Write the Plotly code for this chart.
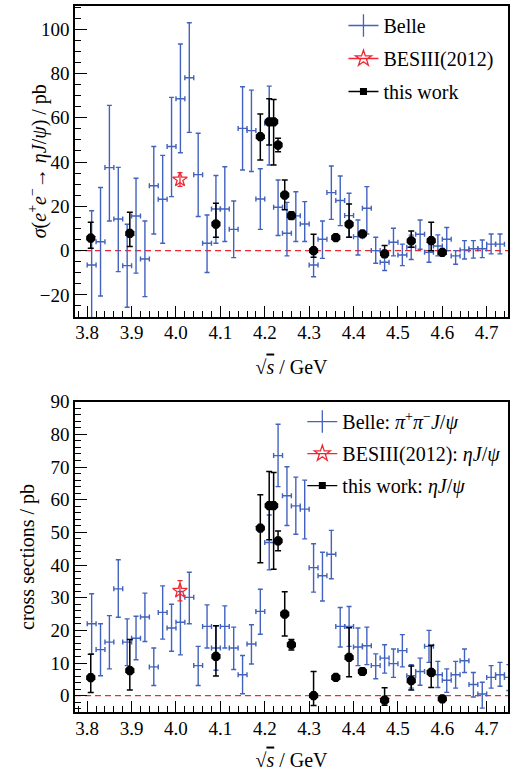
import plotly.graph_objects as go

# ---------------- data ----------------
# Belle e+e- -> eta J/psi (top panel)
belle_eta_x = [3.81, 3.83, 3.85, 3.87, 3.89, 3.91, 3.93, 3.95, 3.97, 3.99,
               4.01, 4.03, 4.05, 4.07, 4.09, 4.11, 4.13, 4.15, 4.17, 4.19,
               4.21, 4.23, 4.25, 4.27, 4.29, 4.31, 4.33, 4.35, 4.37, 4.39,
               4.41, 4.43, 4.45, 4.47, 4.49, 4.51, 4.53, 4.55, 4.57, 4.59,
               4.61, 4.63, 4.65, 4.67, 4.69, 4.71, 4.73]
belle_eta_y = [-6.5, 4.0, 37.5, 14.3, -6.8, 15.6, -3.8, 29.3, 23.2, 47.0,
               68.6, 78.1, 34.3, 3.3, 18.8, 18.8, 9.6, 55.2, 54.2, 23.3,
               57.5, 19.6, 7.8, 15.7, 12.0, -6.5, 5.1, 26.2, 22.6, 15.8,
               6.3, 19.1, 0.0, -5.3, 3.8, -2.0, 1.5, 7.4, -0.8, 2.1,
               5.1, -2.4, 0.3, 0.8, 0.8, 2.9, 2.9]
belle_eta_eup = [24.5, 24.5, 28.1, 23.3, 18.7, 17.1, 17.2, 17.7, 19.8, 22.2,
                 24.7, 24.8, 18.7, 12.8, 15.1, 19.1, 12.8, 18.8, 18.3, 13.7,
                 16.8, 12.3, 14.0, 10.9, 10.1, 5.3, 8.3, 12.0, 11.1, 10.1,
                 7.5, 9.8, 6.0, 5.3, 6.3, 4.9, 5.5, 6.4, 4.5, 5.0,
                 5.3, 2.4, 4.2, 3.7, 4.0, 4.6, 4.6]
belle_eta_edn = [30.0, 24.5, 24.1, 23.8, 18.8, 25.8, 17.0, 21.8, 19.9, 22.6,
                 24.4, 24.7, 18.9, 13.2, 15.5, 14.7, 12.8, 18.8, 18.5, 13.7,
                 18.8, 12.8, 10.2, 11.6, 7.9, 5.3, 8.6, 12.1, 11.3, 9.8,
                 8.3, 11.6, 5.7, 3.7, 6.2, 4.8, 5.5, 6.8, 4.5, 4.5,
                 5.1, 3.8, 4.1, 4.2, 4.0, 4.4, 4.4]

# Belle e+e- -> pi+ pi- J/psi (bottom panel)
belle_pp_x = [3.81, 3.83, 3.85, 3.87, 3.89, 3.91, 3.93, 3.95, 3.97, 3.99,
              4.01, 4.03, 4.05, 4.07, 4.09, 4.11, 4.13, 4.15, 4.17, 4.19,
              4.21, 4.23, 4.25, 4.27, 4.29, 4.31, 4.33, 4.35, 4.37, 4.39,
              4.41, 4.43, 4.45, 4.47, 4.49, 4.51, 4.53, 4.55, 4.57, 4.59,
              4.61, 4.63, 4.65, 4.67, 4.69, 4.71, 4.73, 4.75]
belle_pp_y = [22.0, 14.1, 16.4, 32.7, 16.4, 17.6, 24.1, 8.8, 25.5, 20.7,
              22.5, 30.1, 9.2, 21.2, 14.6, 21.2, 14.6, 6.4, 15.8, 25.8,
              46.9, 73.5, 61.2, 58.1, 57.1, 39.2, 36.7, 43.3, 21.2, 21.2,
              14.9, 15.3, 9.2, 11.5, 9.8, 13.8, 6.1, 7.4, 15.1, 6.4,
              4.7, 6.4, 10.7, 3.4, 0.5, 5.6, 6.4, 5.6]
belle_pp_eup = [9.2, 7.9, 8.1, 8.9, 7.1, 6.7, 7.3, 5.8, 8.1, 7.3,
                9.4, 7.7, 5.9, 6.6, 6.8, 6.3, 6.4, 5.9, 5.9, 6.8,
                8.4, 9.6, 8.9, 8.8, 8.9, 7.3, 7.2, 7.3, 5.8, 6.1,
                5.8, 5.7, 3.6, 4.1, 4.5, 4.9, 3.4, 4.1, 4.9, 4.1,
                3.5, 4.1, 3.6, 3.7, 3.6, 3.6, 3.8, 3.9]
belle_pp_edn = [9.2, 8.0, 8.2, 8.7, 7.2, 6.6, 7.5, 5.7, 8.2, 7.1,
                10.0, 8.1, 6.1, 6.6, 6.8, 6.6, 6.6, 5.8, 6.1, 7.0,
                8.4, 9.5, 9.1, 8.7, 9.1, 7.5, 7.7, 7.5, 6.3, 6.1,
                5.7, 5.8, 4.0, 4.6, 4.2, 5.0, 3.8, 4.2, 4.9, 3.9,
                3.7, 4.1, 3.6, 3.8, 4.3, 3.3, 3.5, 4.0]

# BESIII (2012) eta J/psi at 4.009 GeV
bes12_x = [4.009]
bes12_y = [32.1]
bes12_err = [3.1]

# this work: eta J/psi
tw_x = [3.808, 3.896, 4.090, 4.190, 4.210, 4.220, 4.230, 4.245, 4.260,
        4.310, 4.360, 4.390, 4.420, 4.470, 4.530, 4.575, 4.600]
tw_y_top = [5.6, 7.8, 12.0, 51.5, 58.2, 58.2, 47.7, 25.1, 15.8,
            0.0, 5.9, 11.9, 7.5, -1.5, 4.4, 4.5, -0.8]
tw_y_bot = [5.5, 7.7, 12.0, 51.3, 58.2, 58.2, 47.4, 25.0, 15.6,
            0.0, 5.6, 11.7, 7.4, -1.4, 4.6, 7.1, -1.0]
tw_eup = [7.2, 9.5, 9.4, 10.2, 10.4, 10.1, 3.0, 6.8, 1.6,
          7.4, 0.8, 9.1, 1.0, 3.8, 4.5, 8.3, 0.8]
tw_edn = [4.5, 6.0, 6.0, 10.6, 10.5, 19.5, 3.0, 6.7, 1.6,
          3.0, 0.8, 5.9, 1.0, 1.5, 2.9, 4.6, 0.8]

top_ticks = [-20, 0, 20, 40, 60, 80, 100]
bot_ticks = [0, 10, 20, 30, 40, 50, 60, 70, 80, 90]
x_ticks = [3.8, 3.9, 4.0, 4.1, 4.2, 4.3, 4.4, 4.5, 4.6, 4.7]

top_ytitle = "<i>σ</i>(<i>e</i><sup>+</sup><i>e</i><sup>−</sup>→ <i>ηJ</i>/<i>ψ</i>) / pb"
bot_ytitle = "cross sections / pb"
xtitle = "√<span style='text-decoration:overline'><i>s</i></span> / GeV"

# ---------------- style ----------------
BLUE = "rgb(66,98,190)"
RED = "rgb(240,40,50)"
BLACK = "black"
FONT = "Liberation Serif, Times New Roman, serif"
xbin_half = [0.01] * 48

fig = go.Figure()

def add_panel(xa, ya, belle_x, belle_y, eup, edn, tw_y):
    fig.add_trace(go.Scatter(
        x=belle_x, y=belle_y, mode="markers", xaxis=xa, yaxis=ya,
        marker=dict(size=1, color=BLUE), showlegend=False,
        error_y=dict(type="data", symmetric=False, array=eup, arrayminus=edn,
                     color=BLUE, thickness=1.4, width=2.5),
        error_x=dict(type="data", array=xbin_half[:len(belle_x)],
                     color=BLUE, thickness=1.4, width=2.5)))
    fig.add_trace(go.Scatter(
        x=bes12_x, y=bes12_y, mode="markers", xaxis=xa, yaxis=ya,
        marker=dict(symbol="star-open", size=11, color=RED,
                    line=dict(width=1.3, color=RED)), showlegend=False,
        error_y=dict(type="data", array=bes12_err, color=RED,
                     thickness=1.3, width=2.5)))
    fig.add_trace(go.Scatter(
        x=tw_x, y=tw_y, mode="markers", xaxis=xa, yaxis=ya,
        marker=dict(symbol="octagon", size=10, color=BLACK), showlegend=False,
        error_y=dict(type="data", symmetric=False, array=tw_eup,
                     arrayminus=tw_edn, color=BLACK, thickness=1.5, width=3)))

add_panel("x", "y", belle_eta_x, belle_eta_y, belle_eta_eup, belle_eta_edn, tw_y_top)
add_panel("x2", "y2", belle_pp_x, belle_pp_y, belle_pp_eup, belle_pp_edn, tw_y_bot)

# legend-only entries
def legend_entries(legend, names, xa, ya):
    fig.add_trace(go.Scatter(
        x=[None], y=[None], mode="lines+markers", name=names[0],
        xaxis=xa, yaxis=ya, legend=legend, legendgroup=legend + "a",
        line=dict(color=BLUE, width=1.3),
        marker=dict(symbol="line-ns", size=17, color=BLUE,
                    line=dict(color=BLUE, width=1.3))))
    fig.add_trace(go.Scatter(
        x=[None], y=[None], mode="lines+markers", name=names[1],
        xaxis=xa, yaxis=ya, legend=legend, legendgroup=legend + "b",
        line=dict(color=RED, width=1.3),
        marker=dict(symbol="star-open", size=12, color=RED,
                    line=dict(color=RED, width=1.3))))
    fig.add_trace(go.Scatter(
        x=[None], y=[None], mode="lines+markers", name=names[2],
        xaxis=xa, yaxis=ya, legend=legend, legendgroup=legend + "c",
        line=dict(color=BLACK, width=1.3),
        marker=dict(symbol="square", size=7, color=BLACK)))

legend_entries("legend", ["Belle", "BESIII(2012)", "this work"], "x", "y")
legend_entries("legend2",
               ["Belle: <i>π</i><sup>+</sup><i>π</i><sup>−</sup><i>J</i>/<i>ψ</i>",
                "BESIII(2012): <i>ηJ</i>/<i>ψ</i>",
                "this work: <i>ηJ</i>/<i>ψ</i>"], "x2", "y2")

# zero lines
for yref, xref in [("y", "x domain"), ("y2", "x2 domain")]:
    fig.add_shape(type="line", xref=xref, yref=yref, x0=0, x1=1, y0=0, y1=0,
                  line=dict(color=RED, width=1.4, dash="6px,4px"), layer="below")

# y-axis titles as annotations (fixed position like the reference)
fig.add_annotation(text=top_ytitle, xref="paper", yref="paper", x=-0.086, y=0.7797,
                   xanchor="center", yanchor="middle", textangle=-90, showarrow=False,
                   font=dict(family=FONT, size=20, color=BLACK))
fig.add_annotation(text=bot_ytitle, xref="paper", yref="paper", x=-0.111, y=0.2195,
                   xanchor="center", yanchor="middle", textangle=-90, showarrow=False,
                   font=dict(family=FONT, size=20, color=BLACK))

def xaxis_style(standoff, label_standoff):
    return dict(range=[3.7725, 4.748], tickvals=x_ticks,
                ticktext=[f"{v:.1f}" for v in x_ticks],
                ticks="inside", ticklen=11, tickwidth=1.2, tickcolor=BLACK,
                minor=dict(dtick=0.02, tick0=3.8, ticks="inside", ticklen=6,
                           tickwidth=1.2, tickcolor=BLACK),
                showline=True, linecolor=BLACK, linewidth=1.5, mirror=True,
                showgrid=False, zeroline=False, automargin=False,
                ticklabelstandoff=label_standoff,
                tickfont=dict(family=FONT, size=19, color=BLACK),
                title=dict(text=xtitle, font=dict(family=FONT, size=20, color=BLACK),
                           standoff=standoff))

common_y = dict(ticks="inside", ticklen=12, tickwidth=1.2, tickcolor=BLACK,
                showline=True, linecolor=BLACK, linewidth=1.5, mirror=True,
                showgrid=False, zeroline=False, automargin=False,
                tickfont=dict(family=FONT, size=19, color=BLACK))

fig.update_layout(
    template="none",
    width=520, height=776,
    margin=dict(l=75, r=12, t=6, b=64, autoexpand=False),
    paper_bgcolor="white", plot_bgcolor="white",
    font=dict(family=FONT, size=19, color=BLACK),
    xaxis=dict(domain=[0, 1], anchor="y", **xaxis_style(18, -3)),
    xaxis2=dict(domain=[0, 1], anchor="y2", **xaxis_style(15, -2)),
    yaxis=dict(domain=[0.5595, 1], anchor="x", range=[-30, 110.5],
               tickvals=top_ticks,
               minor=dict(dtick=5, tick0=0, ticks="inside", ticklen=6,
                          tickwidth=1.2, tickcolor=BLACK),
               **common_y),
    yaxis2=dict(domain=[0, 0.4395], anchor="x2", range=[-5, 90],
                tickvals=bot_ticks,
                minor=dict(dtick=2, tick0=0, ticks="inside", ticklen=6,
                           tickwidth=1.2, tickcolor=BLACK),
                **common_y),
    legend=dict(x=0.62, y=1.0, xanchor="left", yanchor="top",
                bgcolor="rgba(0,0,0,0)", font=dict(family=FONT, size=20, color=BLACK),
                itemwidth=30, tracegroupgap=4, traceorder="grouped"),
    legend2=dict(x=0.525, y=0.439, xanchor="left", yanchor="top",
                 bgcolor="rgba(0,0,0,0)", font=dict(family=FONT, size=20, color=BLACK),
                 itemwidth=30, tracegroupgap=3, traceorder="grouped"),
)

fig.write_html("out.html")
